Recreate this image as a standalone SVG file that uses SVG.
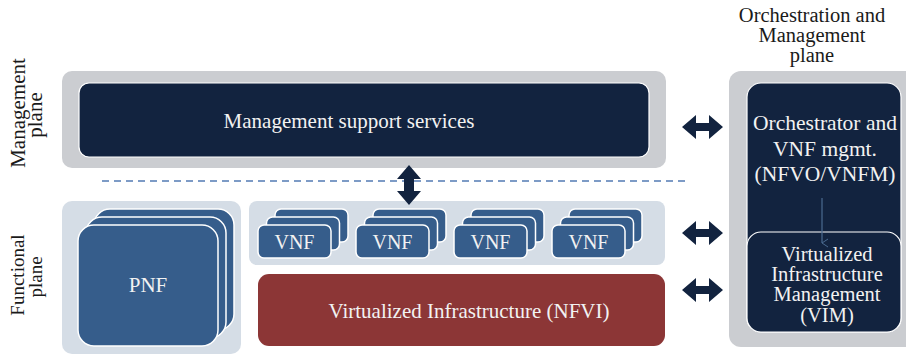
<svg xmlns="http://www.w3.org/2000/svg" width="906" height="355" viewBox="0 0 906 355">
<defs>
<style>
.t{font-family:"Liberation Serif","Times New Roman",serif;text-anchor:middle}
.w{fill:#f2f2f2}
.k{fill:#1a1a1a}
.grey{fill:#cbcdd1}
.light{fill:#d5dde6}
.navy{fill:#12233f;stroke:#ffffff;stroke-width:1.2}
.card{fill:#365d8b;stroke:#ffffff;stroke-width:1.5}
.arr{fill:#12233f}
</style>
<marker id="chev" markerWidth="10" markerHeight="10" refX="5" refY="8" orient="auto-start-reverse" markerUnits="userSpaceOnUse">
<path d="M1,2 L5,8 L9,2" fill="none" stroke="#4a6a90" stroke-width="1"/>
</marker>
<g id="vnfstack">
<rect x="17" y="-16" width="73" height="33" rx="6" class="card"/>
<rect x="8.5" y="-8" width="73" height="33" rx="6" class="card"/>
<rect x="0" y="0" width="73" height="33" rx="6" class="card"/>
<text x="36.5" y="23.5" class="t w" font-size="20">VNF</text>
</g>
<path id="harr" d="M0,0 L14,-12 L14,-4 L27,-4 L27,-12 L41,0 L27,12 L27,4 L14,4 L14,12 Z"/>
</defs>
<rect width="906" height="355" fill="#ffffff"/>

<g id="labels">
<text class="t k" font-size="21" transform="translate(25,113) rotate(-90)">Management</text>
<text class="t k" font-size="21" transform="translate(42,115) rotate(-90)">plane</text>
<text class="t k" font-size="19" transform="translate(24,275) rotate(-90)">Functional</text>
<text class="t k" font-size="19" transform="translate(42,277) rotate(-90)">plane</text>
<text class="t k" font-size="20.5" x="812" y="22">Orchestration and</text>
<text class="t k" font-size="20.5" x="812" y="42">Management</text>
<text class="t k" font-size="20.5" x="812" y="62">plane</text>
</g>

<g id="management-plane">
<rect x="62" y="71" width="604" height="97" rx="10" class="grey"/>
<g id="mgmt-support">
<rect x="79" y="83" width="570" height="74" rx="10" class="navy"/>
<text x="349" y="128" class="t w" font-size="21">Management support services</text>
</g>
</g>

<g id="pnf-group">
<rect x="62" y="201" width="179" height="153" rx="10" class="light"/>
<g id="pnf">
<rect x="94" y="209" width="140" height="121" rx="16" class="card"/>
<rect x="86" y="217" width="140" height="121" rx="16" class="card"/>
<rect x="78" y="225" width="140" height="121" rx="16" class="card"/>
<text x="148" y="292" class="t w" font-size="21">PNF</text>
</g>
</g>

<g id="vnf-group">
<rect x="249" y="201" width="416" height="64" rx="8" class="light"/>
<g id="vnf1"><use href="#vnfstack" x="258" y="225"/></g>
<g id="vnf2"><use href="#vnfstack" x="356" y="225"/></g>
<g id="vnf3"><use href="#vnfstack" x="454" y="225"/></g>
<g id="vnf4"><use href="#vnfstack" x="552" y="225"/></g>
</g>

<g id="nfvi">
<rect x="258" y="274" width="407" height="72" rx="11" fill="#8c3636"/>
<text x="469" y="318" class="t w" font-size="21">Virtualized Infrastructure (NFVI)</text>
</g>

<g id="mano">
<rect x="729" y="71" width="190" height="276" rx="12" class="grey"/>
<g id="nfvo">
<rect x="747" y="83" width="154" height="249" rx="14" class="navy"/>
<text class="t w" font-size="21.5" x="825" y="130">Orchestrator and</text>
<text class="t w" font-size="21.5" x="825" y="156">VNF mgmt.</text>
<text class="t w" font-size="21.5" x="825" y="181">(NFVO/VNFM)</text>
</g>
<g id="vim">
<rect x="747" y="232" width="154" height="100" rx="14" class="navy"/>
<text class="t w" font-size="20.5" x="827" y="261">Virtualized</text>
<text class="t w" font-size="20.5" x="827" y="281">Infrastructure</text>
<text class="t w" font-size="20.5" x="827" y="301">Management</text>
<text class="t w" font-size="20.5" x="827" y="322">(VIM)</text>
</g>
</g>

<g id="connectors">
<line x1="102" y1="181" x2="686" y2="181" stroke="#7d9bc6" stroke-width="2" stroke-dasharray="7,5"/>
<use href="#harr" x="682" y="127" class="arr"/>
<use href="#harr" x="682" y="233" class="arr"/>
<use href="#harr" x="682" y="290" class="arr"/>
<path class="arr" d="M409,165 L421,179 L414,179 L414,191 L421,191 L409,205 L397,191 L404,191 L404,179 L397,179 Z"/>
<line x1="822" y1="198" x2="822" y2="243" stroke="#4a6a90" stroke-width="1.2" marker-end="url(#chev)"/>
</g>
</svg>
